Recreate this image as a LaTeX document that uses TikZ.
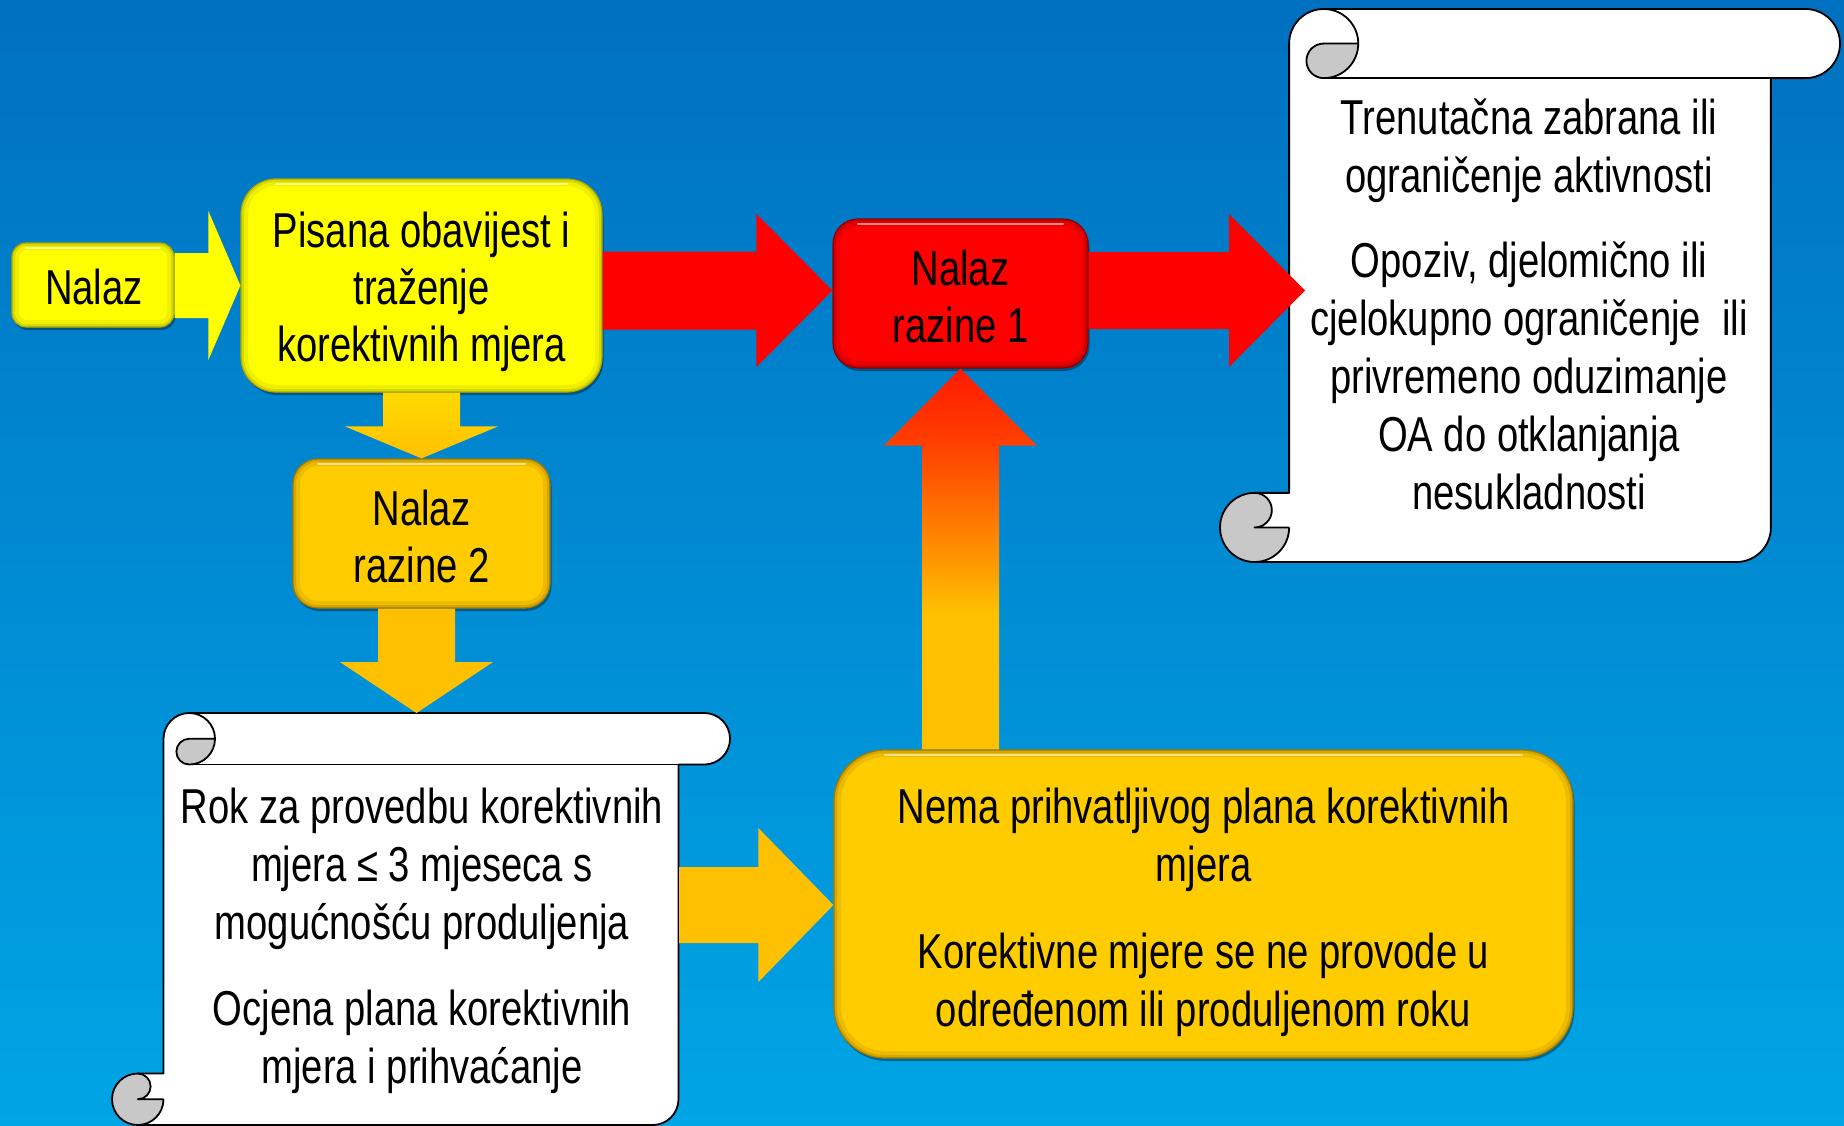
\documentclass[tikz,border=0pt]{standalone}
\usepackage{fontspec}
\setmainfont{Liberation Sans}[FakeStretch=0.78]
\usetikzlibrary{calc,shadows}

\definecolor{bgtop}{HTML}{0070C0}
\definecolor{bgbot}{HTML}{00A5E5}
\definecolor{yel}{HTML}{FFFF00}
\definecolor{yeldark}{HTML}{A8A800}
\definecolor{gold}{HTML}{FFCC00}
\definecolor{golddark}{HTML}{A07800}
\definecolor{agold}{HTML}{FFC000}
\definecolor{aorange}{HTML}{FF8A00}
\definecolor{ared1}{HTML}{FF1A00}
\definecolor{ared2}{HTML}{FF4000}
\definecolor{rred}{HTML}{FF0000}
\definecolor{rdark}{HTML}{8A0000}
\definecolor{sgray}{HTML}{C8C8C8}

\pgfdeclareverticalshading{upgrad}{100bp}{color(0bp)=(agold); color(43bp)=(agold); color(52bp)=(aorange); color(65bp)=(ared2); color(75bp)=(ared1); color(100bp)=(ared1)}

\tikzset{
  txt/.style={align=center, inner sep=0pt, font=\fontsize{49}{58}\selectfont, text=black},
  btxt/.style={align=center, inner sep=0pt, font=\fontsize{49}{57}\selectfont, text=black},
  bevbox/.style n args={3}{rounded corners=#3, fill=#1, draw=#2, line width=1.2pt,
    inner sep=0pt,
    drop shadow={shadow xshift=1.5pt, shadow yshift=-3pt, opacity=.35, fill=black},
    path picture={
      \draw[#2, line width=14pt, opacity=.18, rounded corners=#3]
        (path picture bounding box.south west) rectangle (path picture bounding box.north east);
      \draw[#2, line width=6pt, opacity=.30, rounded corners=#3]
        (path picture bounding box.south west) rectangle (path picture bounding box.north east);
      \draw[white, line width=2.5pt, opacity=.55, line cap=round]
        ([xshift=#3, yshift=-5pt]path picture bounding box.north west) --
        ([xshift=-#3, yshift=-5pt]path picture bounding box.north east);
    }},
  sline/.style={draw=black, line width=1.8pt, line join=round},
}

% block arrow: style, start (on axis), tip, shaft half, head half, head length
\newcommand{\blockarrow}[6]{%
  \coordinate (ba-s) at #2;
  \coordinate (ba-t) at #3;
  \coordinate (ba-h) at ($(ba-t)!#6!(ba-s)$);
  \path[#1] ($(ba-s)!#4!90:(ba-t)$) -- ($(ba-h)!#4!90:(ba-t)$) -- ($(ba-h)!#5!90:(ba-t)$)
    -- (ba-t) -- ($(ba-h)!#5!-90:(ba-t)$) -- ($(ba-h)!#4!-90:(ba-t)$)
    -- ($(ba-s)!#4!-90:(ba-t)$) -- cycle;}

% PowerPoint-like vertical scroll: x0, y0, w, h (pixels, y down)
\newcommand{\vscroll}[4]{%
  \pgfmathsetmacro{\scW}{#3}\pgfmathsetmacro{\scB}{#4}%
  \pgfmathsetmacro{\scC}{0.125*min(#3,#4)}%
  \pgfmathsetmacro{\scH}{\scC/2}\pgfmathsetmacro{\scQ}{\scC/4}%
  \pgfmathsetmacro{\scXiii}{\scC+\scH}\pgfmathsetmacro{\scXiv}{2*\scC}%
  \pgfmathsetmacro{\scXvi}{\scW-\scC}\pgfmathsetmacro{\scXvii}{\scW-\scH}%
  \pgfmathsetmacro{\scYiii}{\scB-\scC}\pgfmathsetmacro{\scYiv}{\scB-\scH}%
  \begin{scope}[shift={(#1,#2)}]
    \fill[white] (\scH,\scB) arc[start angle=90,delta angle=-90,radius=\scH]
      -- (\scC,\scH) arc[start angle=180,delta angle=90,radius=\scH]
      -- (\scXvii,0) arc[start angle=270,delta angle=180,radius=\scH]
      -- (\scXvi,\scC) -- (\scXvi,\scYiv) arc[start angle=0,delta angle=90,radius=\scH] -- cycle;
    \fill[white] (\scH,\scYiii) rectangle (\scC,\scYiv);
    \fill[sgray] (\scXiv,\scH) arc[start angle=0,delta angle=90,radius=\scH]
      arc[start angle=90,delta angle=180,radius=\scQ] -- cycle;
    \fill[sgray] (\scC,\scYiv) arc[start angle=0,delta angle=270,radius=\scH]
      arc[start angle=270,delta angle=180,radius=\scQ] -- cycle;
    \draw[sline] (\scC,\scYiii) -- (\scC,\scH) arc[start angle=180,delta angle=90,radius=\scH]
      -- (\scXvii,0) arc[start angle=270,delta angle=180,radius=\scH]
      -- (\scXvi,\scC) -- (\scXvi,\scYiv) arc[start angle=0,delta angle=90,radius=\scH]
      -- (\scH,\scB) arc[start angle=90,delta angle=180,radius=\scH] -- cycle;
    \draw[sline] (\scXiii,0) arc[start angle=270,delta angle=180,radius=\scH]
      arc[start angle=90,delta angle=180,radius=\scQ] -- (\scXiv,\scH);
    \draw[sline] (\scXiii,\scC) -- (\scXvi,\scC);
    \draw[sline] (\scH,\scB) arc[start angle=90,delta angle=-90,radius=\scH];
    \draw[sline] (\scH,\scYiii) arc[start angle=270,delta angle=180,radius=\scQ] -- (\scC,\scYiv);
  \end{scope}}

\begin{document}
\begin{tikzpicture}[x=1pt,y=-1pt]
  % background
  \shade[top color=bgtop, bottom color=bgbot] (0,0) rectangle (1844,1125);
  \useasboundingbox (0,0) rectangle (1844,1125);

  % scrolls
  \vscroll{1220}{9}{620}{553}
  \vscroll{112}{713}{618}{412}
  \coordinate (s1in) at (1305,290.5);
  \coordinate (s2top) at (416.5,713);
  \coordinate (s2right) at (679,905);

  \node[txt] (s1text) at (1529,304.5) {Trenutačna zabrana ili\\ograničenje aktivnosti\\[27pt]Opoziv, djelomično ili\\cjelokupno ograničenje\ \ ili\\privremeno oduzimanje\\OA do otklanjanja\\nesukladnosti};
  \node[txt] (s2text) at (422,941) {Rok za provedbu korektivnih\\mjera ≤ 3 mjeseca s\\mogućnošću produljenja\\[28pt]Ocjena plana korektivnih\\mjera i prihvaćanje};

  % boxes
  \node[bevbox={yel}{yeldark}{14pt}, minimum width=162pt, minimum height=84pt] (n0) at (93,285) {};
  \node[btxt] (n0t) at ([xshift=1pt, yshift=-1.5pt]n0.center) {Nalaz};
  \node[bevbox={yel}{yeldark}{35pt}, minimum width=361pt, minimum height=213pt] (pis) at (421.5,285.5) {};
  \node[btxt] (pist) at ([yshift=-6.5pt]pis.center) {Pisana obavijest i\\traženje\\korektivnih mjera};
  \node[bevbox={rred}{rdark}{25pt}, minimum width=255pt, minimum height=149pt] (r1) at (960.5,293.5) {};
  \node[btxt] (r1t) at ([yshift=-2.5pt]r1.center) {Nalaz\\razine 1};
  \node[bevbox={gold}{golddark}{25pt}, minimum width=257pt, minimum height=149pt] (r2) at (421.5,533.5) {};
  \node[btxt] (r2t) at ([yshift=-2.5pt]r2.center) {Nalaz\\razine 2};
  \node[bevbox={gold}{golddark}{51pt}, minimum width=739pt, minimum height=308pt] (big) at (1203.5,904) {};
  \node[txt] (bigt) at ([yshift=-8pt]big.center) {Nema prihvatljivog plana korektivnih\\mjera\\[29pt]Korektivne mjere se ne provode u\\određenom ili produljenom roku};

  % arrows
  \blockarrow{fill=yel}{(n0.east |- pis.west)}{(pis.west)}{32.5pt}{74.5pt}{32pt}
  \blockarrow{fill=rred}{(pis.east |- s1in)}{(r1.west |- s1in)}{39pt}{76.5pt}{76pt}
  \blockarrow{fill=rred}{(r1.east |- s1in)}{(s1in)}{38.5pt}{76.5pt}{76pt}
  \blockarrow{top color=yel!40!agold, bottom color=agold}{(pis.south)}{(r2.north)}{38.5pt}{76.5pt}{32pt}
  \blockarrow{fill=agold}{(r2.south -| s2top)}{(s2top)}{38.5pt}{76.5pt}{51pt}
  \blockarrow{fill=agold}{(s2right)}{(big.west |- s2right)}{38pt}{77pt}{75pt}
  \blockarrow{shading=upgrad}{(big.north -| r1.south)}{(r1.south)}{38.5pt}{76.5pt}{77pt}
\end{tikzpicture}
\end{document}
